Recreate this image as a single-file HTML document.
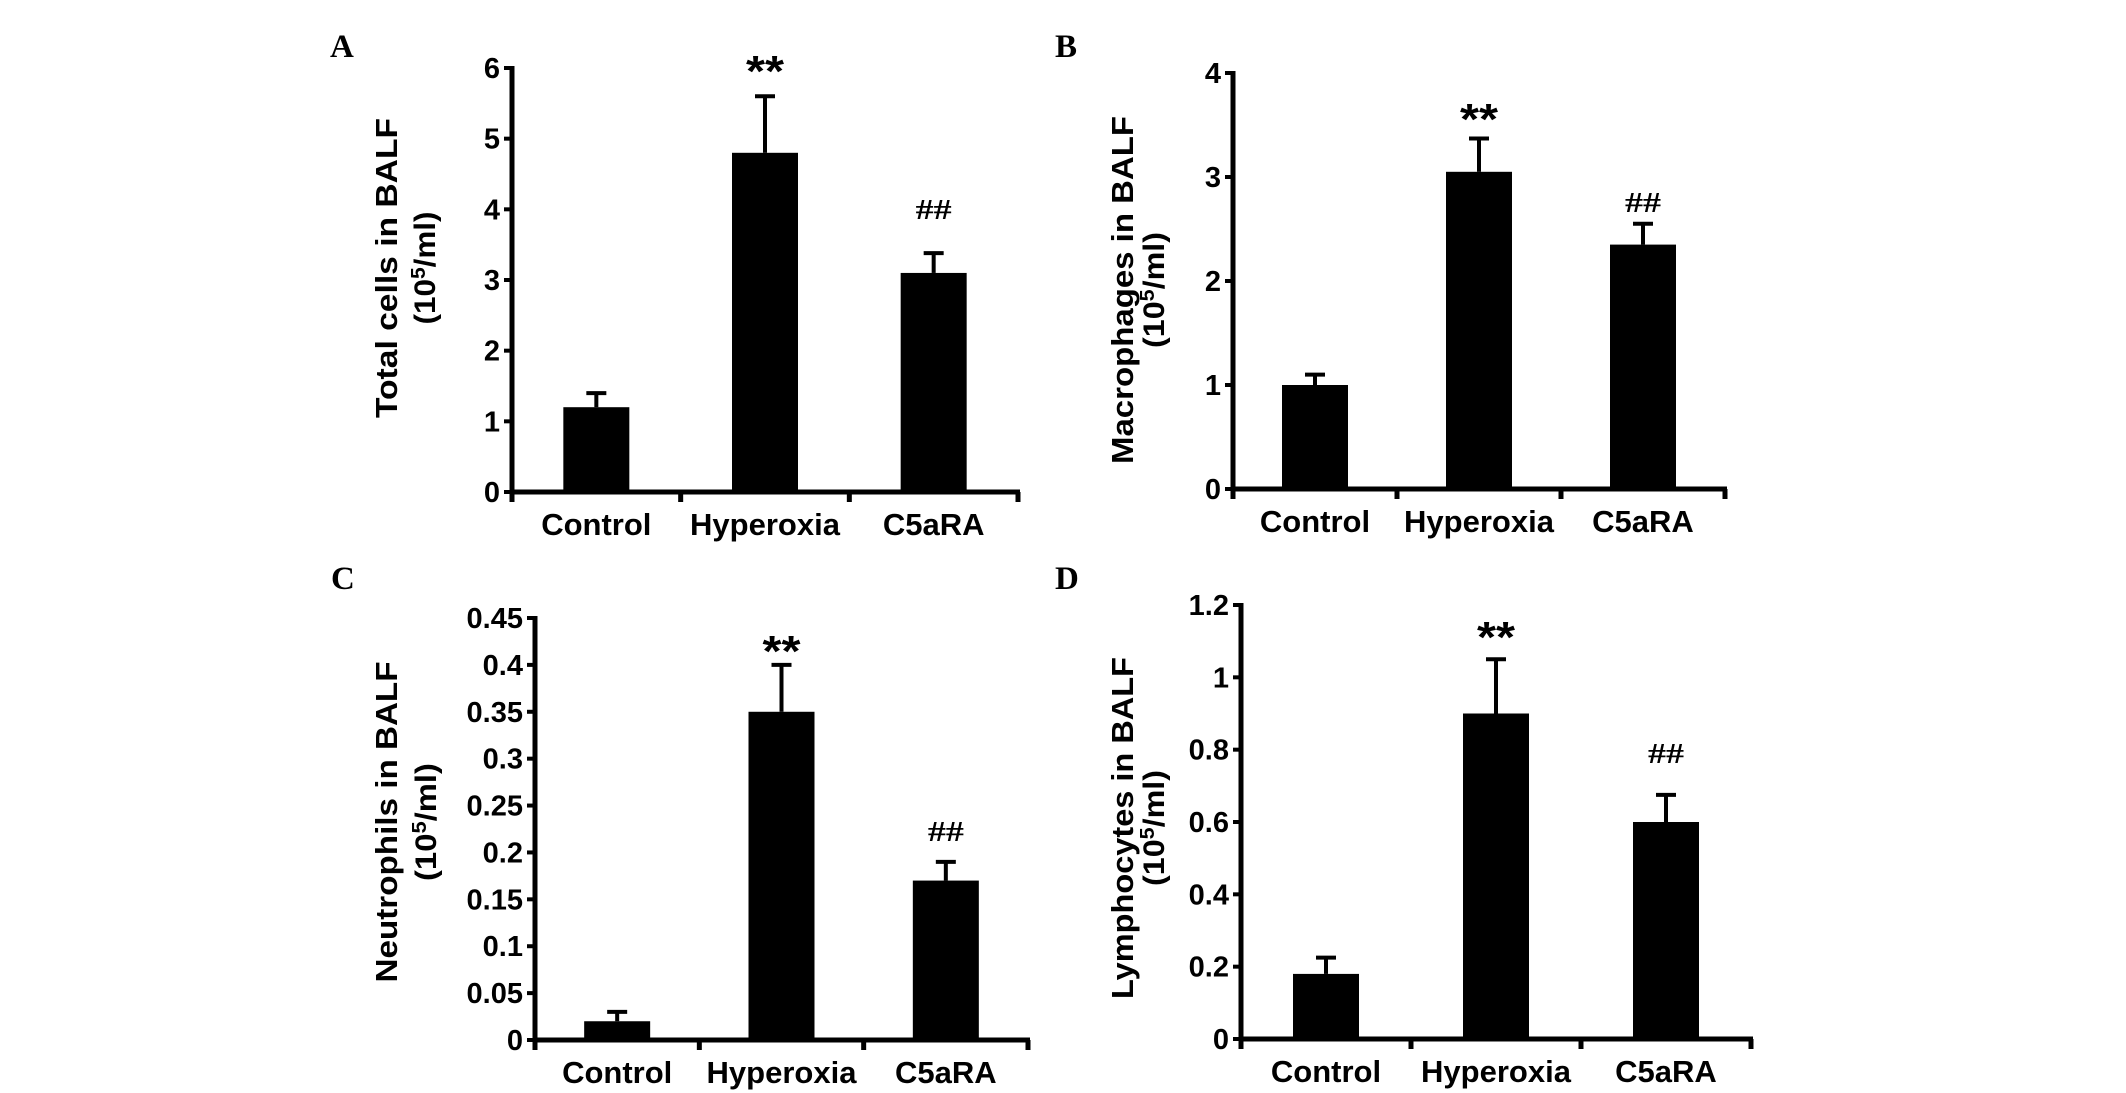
<!DOCTYPE html>
<html><head><meta charset="utf-8"><style>
html,body{margin:0;padding:0;background:#fff;}
svg{display:block;}
</style></head><body>
<svg id="fig" width="2126" height="1093" viewBox="0 0 2126 1093" xmlns="http://www.w3.org/2000/svg"></svg>
<script>
// Data
const categories = ["Control", "Hyperoxia", "C5aRA"];
const totalCells = [1.2, 4.8, 3.1];
const totalCellsErr = [0.2, 0.8, 0.28];
const totalTicks = ["0","1","2","3","4","5","6"];
const macrophages = [1.0, 3.05, 2.35];
const macrophagesErr = [0.1, 0.32, 0.2];
const macroTicks = ["0","1","2","3","4"];
const neutrophils = [0.02, 0.35, 0.17];
const neutrophilsErr = [0.01, 0.05, 0.02];
const neutroTicks = ["0","0.05","0.1","0.15","0.2","0.25","0.3","0.35","0.4","0.45"];
const lymphocytes = [0.18, 0.9, 0.6];
const lymphocytesErr = [0.045, 0.15, 0.075];
const lymphoTicks = ["0","0.2","0.4","0.6","0.8","1","1.2"];
const titles = ["Total cells in BALF", "Macrophages in BALF", "Neutrophils in BALF", "Lymphocytes in BALF"];
const markers = ["**", "##"];

const NS = "http://www.w3.org/2000/svg";
const svg = document.getElementById("fig");
function mk(tag, attrs, parent) {
  const e = document.createElementNS(NS, tag);
  for (const k in attrs) e.setAttribute(k, attrs[k]);
  (parent || svg).appendChild(e);
  return e;
}

const panels = [
  {id:"a", letter:"A", lx:330, ly:57, ax:512, top:68, zero:492, right:1018, vals:totalCells, errs:totalCellsErr, ticks:totalTicks,
   t1x:386, t2x:424, tcy:268, t1len:300, t2len:113, starY:66, hashY:209, title:titles[0]},
  {id:"b", letter:"B", lx:1055, ly:57, ax:1233, top:73, zero:489, right:1725, vals:macrophages, errs:macrophagesErr, ticks:macroTicks,
   t1x:1122, t2x:1153, tcy:290, t1len:348, t2len:116, starY:114, hashY:202, title:titles[1]},
  {id:"c", letter:"C", lx:331, ly:589, ax:535, top:618, zero:1040, right:1028, vals:neutrophils, errs:neutrophilsErr, ticks:neutroTicks,
   t1x:386, t2x:425, tcy:822, t1len:321, t2len:118, starY:646, hashY:831, title:titles[2]},
  {id:"d", letter:"D", lx:1055, ly:589, ax:1241, top:605, zero:1039, right:1751, vals:lymphocytes, errs:lymphocytesErr, ticks:lymphoTicks,
   t1x:1122, t2x:1153, tcy:828, t1len:342, t2len:116, starY:632, hashY:753, title:titles[3]}
];

panels.forEach(p => {
  const g = mk("g", {});
  
  
  const maxV = parseFloat(p.ticks[p.ticks.length-1]);
  const y = v => p.zero - (v / maxV) * (p.zero - p.top);
  const slot = (p.right - p.ax) / categories.length;
  const xc = i => p.ax + slot * (i + 0.5);
  const bw = 66;

  const L = mk("text", {x:p.lx, y:p.ly, "font-family":"Liberation Serif, serif", "font-weight":"bold", "font-size":33, fill:"#000"}, g);
  L.textContent = p.letter;
  
  

  p.vals.forEach((v, i) => {
    const cx = xc(i);
    const eTop = y(v + p.errs[i]);
    const el = mk("line", {x1:cx, x2:cx, y1:eTop, y2:y(v), stroke:"#000", "stroke-width":4}, g);
    
    
    const cap = mk("line", {x1:cx-10, x2:cx+10, y1:eTop, y2:eTop, stroke:"#000", "stroke-width":4}, g);
    
    
    const r = mk("rect", {x:cx-bw/2, y:y(v), width:bw, height:p.zero - y(v), fill:"#000"}, g);
    
    
    const t = mk("text", {x:cx, y:p.zero+43, "text-anchor":"middle", "font-family":"Liberation Sans, sans-serif", "font-weight":"bold", "font-size":31, fill:"#000"}, g);
    t.textContent = categories[i];
    
    
  });

  const s = mk("text", {x:xc(1), y:p.starY+20, "text-anchor":"middle", "font-family":"Liberation Sans, sans-serif", "font-weight":"bold", "font-size":44, textLength:38, lengthAdjust:"spacingAndGlyphs", fill:"#000"}, g);
  s.textContent = markers[0];
  
  
  const h = mk("text", {x:xc(2), y:p.hashY+10, "text-anchor":"middle", "font-family":"Liberation Serif, serif", "font-weight":"bold", "font-size":28, textLength:36, lengthAdjust:"spacingAndGlyphs", fill:"#000"}, g);
  h.textContent = markers[1];
  
  

  const ya = mk("line", {x1:p.ax, x2:p.ax, y1:p.top-2, y2:p.zero+9, stroke:"#000", "stroke-width":5}, g);
  
  
  const xa = mk("line", {x1:p.ax-2, x2:p.right+2, y1:p.zero, y2:p.zero, stroke:"#000", "stroke-width":5}, g);
  
  
  for (let k = 0; k <= categories.length; k++) {
    const tx = p.ax + slot * k;
    const tk = mk("line", {x1:tx, x2:tx, y1:p.zero, y2:p.zero+10, stroke:"#000", "stroke-width":5}, g);
    
    
  }
  p.ticks.forEach(tv => {
    const ty = y(parseFloat(tv));
    const tk = mk("line", {x1:p.ax-8, x2:p.ax, y1:ty, y2:ty, stroke:"#000", "stroke-width":4}, g);
    
    
    const tl = mk("text", {x:p.ax-12, y:ty+10, "text-anchor":"end", "font-family":"Liberation Sans, sans-serif", "font-weight":"bold", "font-size":29, fill:"#000"}, g);
    tl.textContent = tv;
    
    
  });

  const t1 = mk("text", {x:0, y:0, transform:`translate(${p.t1x+11},${p.tcy}) rotate(-90)`, "text-anchor":"middle", "font-family":"Liberation Sans, sans-serif", "font-weight":"bold", "font-size":31, textLength:p.t1len, lengthAdjust:"spacingAndGlyphs", fill:"#000"}, g);
  t1.textContent = p.title;
  
  
  const t2 = mk("text", {x:0, y:0, transform:`translate(${p.t2x+11},${p.tcy}) rotate(-90)`, "text-anchor":"middle", "font-family":"Liberation Sans, sans-serif", "font-weight":"bold", "font-size":30, fill:"#000"}, g);
  t2.innerHTML = '(10<tspan dy="-10" font-size="20">5</tspan><tspan dy="10">/ml)</tspan>';
  t2.setAttribute('textLength', p.t2len);
  t2.setAttribute('lengthAdjust', 'spacingAndGlyphs');
  
  
});
</script>
</body></html>
